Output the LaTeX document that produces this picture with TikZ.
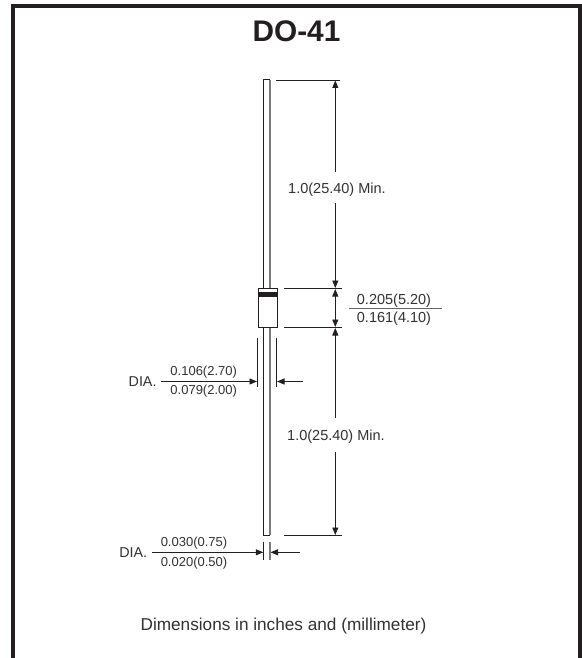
\documentclass[tikz,border=0pt]{standalone}
\usepackage{fontspec}
\setmainfont{Liberation Sans}
\usetikzlibrary{arrows.meta}
\definecolor{ink}{HTML}{231F20}
\definecolor{txt}{HTML}{333132}
\tikzset{
  x=1pt,y=-1pt,
  frameline/.style={draw=ink,line width=4pt},
  part/.style={draw=ink,line width=1pt},
  shade/.style={draw=ink!60,line width=1.4pt},
  ext/.style={draw=ink,line width=0.8pt},
  dim/.style={draw=ink,line width=0.8pt,-{Triangle[length=7.5pt,width=6pt]}},
  dimboth/.style={draw=ink,line width=0.8pt,{Triangle[length=7.5pt,width=6pt]}-{Triangle[length=7.5pt,width=6pt]}},
  lab/.style={text=txt,inner sep=0pt,font=\fontsize{14.5}{16}\selectfont},
  smalllab/.style={text=txt,inner sep=0pt,font=\fontsize{13}{15}\selectfont},
  dialab/.style={text=txt,inner sep=0pt,font=\fontsize{14.3}{16}\selectfont},
}
\begin{document}
\begin{tikzpicture}
\useasboundingbox (0,0) rectangle (581,658);
\fill[white] (0,0) rectangle (581,658);
% frame
\coordinate (fbl) at (13,658); \coordinate (ftl) at (13,6);
\coordinate (ftr) at (579.5,6); \coordinate (fbr) at (579.5,658);
\draw[frameline] (fbl) -- (ftl) -- (ftr) -- (fbr);
\node[inner sep=0pt,text=ink,font=\fontsize{29.8}{32}\bfseries\selectfont] (title) at (296.5,31) {DO-41};
% leads
\coordinate (tl1) at (263.5,80); \coordinate (tl2) at (270,80);
\coordinate (tb1) at (263.5,288); \coordinate (tb2) at (270,288);
\coordinate (bl1) at (263.5,327); \coordinate (bl2) at (270,327);
\coordinate (bb1) at (263.5,535); \coordinate (bb2) at (270,535);
\draw[part] (tb1) -- (tl1) -- (tl2);
\draw[shade] (tl2) -- (tb2);
\draw[part] (bl1) -- (bb1) -- (bb2);
\draw[shade] (bl2) -- (bb2);
% body
\node[part,fill=white,minimum width=19.5pt,minimum height=39pt,inner sep=0pt,anchor=north west] (body) at (257.5,288) {};
\fill[ink] (257.5,292) rectangle (277,297.3);
% vertical dimension extensions
\coordinate (e1a) at (276,80); \coordinate (e1b) at (339.5,80);
\coordinate (e2a) at (284,288.5); \coordinate (e2b) at (342,288.5);
\coordinate (e3a) at (284,327); \coordinate (e3b) at (342,327);
\coordinate (e4a) at (284,535.5); \coordinate (e4b) at (342,535.5);
\draw[ext] (e1a) -- (e1b);
\draw[ext] (e2a) -- (e2b);
\draw[ext] (e3a) -- (e3b);
\draw[ext] (e4a) -- (e4b);
\coordinate (v1) at (335.3,80.5); \coordinate (g1) at (335.3,172);
\coordinate (g2) at (335.3,203); \coordinate (v2) at (335.3,288);
\coordinate (v3) at (335.3,289); \coordinate (v4) at (335.3,327);
\coordinate (v5) at (335.3,328); \coordinate (g3) at (335.3,418);
\coordinate (g4) at (335.3,452); \coordinate (v6) at (335.3,535);
\draw[dim] (g1) -- (v1);
\draw[dim] (g2) -- (v2);
\draw[dimboth] (v3) -- (v4);
\draw[dim] (g3) -- (v5);
\draw[dim] (g4) -- (v6);
\node[lab,anchor=west] (len1) at (288,190) {1.0(25.40) Min.};
\node[lab,anchor=west] (len2) at (287,437) {1.0(25.40) Min.};
% body length fraction
\coordinate (f1) at (349,308.7); \coordinate (f2) at (442,308.7);
\draw[draw=ink!70,line width=0.8pt] (f1) -- (f2);
\node[lab] (bt) at (394,300.5) {0.205(5.20)};
\node[lab] (bb) at (394,319) {0.161(4.10)};
% body diameter
\coordinate (d1a) at (257.3,337.5); \coordinate (d1b) at (257.3,386.7);
\coordinate (d2a) at (276.7,337.5); \coordinate (d2b) at (276.7,386.7);
\draw[ext] (d1a) -- (d1b);
\draw[ext] (d2a) -- (d2b);
\coordinate (da1) at (160.7,381.5); \coordinate (da2) at (257,381.5);
\coordinate (da3) at (303,381.5); \coordinate (da4) at (277,381.5);
\draw[dim] (da1) -- (da2);
\draw[dim] (da3) -- (da4);
\node[dialab,anchor=east] (dia1) at (156.7,382) {DIA.};
\node[smalllab] (dt) at (203.7,372) {0.106(2.70)};
\node[smalllab] (db) at (203.7,391) {0.079(2.00)};
% lead diameter
\coordinate (l1a) at (263.7,541.5); \coordinate (l1b) at (263.7,560);
\coordinate (l2a) at (270,541.5); \coordinate (l2b) at (270,560);
\draw[ext] (l1a) -- (l1b);
\draw[shade] (l2a) -- (l2b);
\coordinate (la1) at (152,552.3); \coordinate (la2) at (263.3,552.3);
\coordinate (la3) at (300,552.3); \coordinate (la4) at (270.5,552.3);
\draw[dim] (la1) -- (la2);
\draw[dim] (la3) -- (la4);
\node[dialab,anchor=east] (dia2) at (147.3,552.8) {DIA.};
\node[smalllab] (lt) at (194,543.2) {0.030(0.75)};
\node[smalllab] (lb) at (194,562.8) {0.020(0.50)};
\node[text=txt,inner sep=0pt,font=\fontsize{17.2}{19}\selectfont] (note) at (283.5,626.5) {Dimensions in inches and (millimeter)};
\end{tikzpicture}
\end{document}
